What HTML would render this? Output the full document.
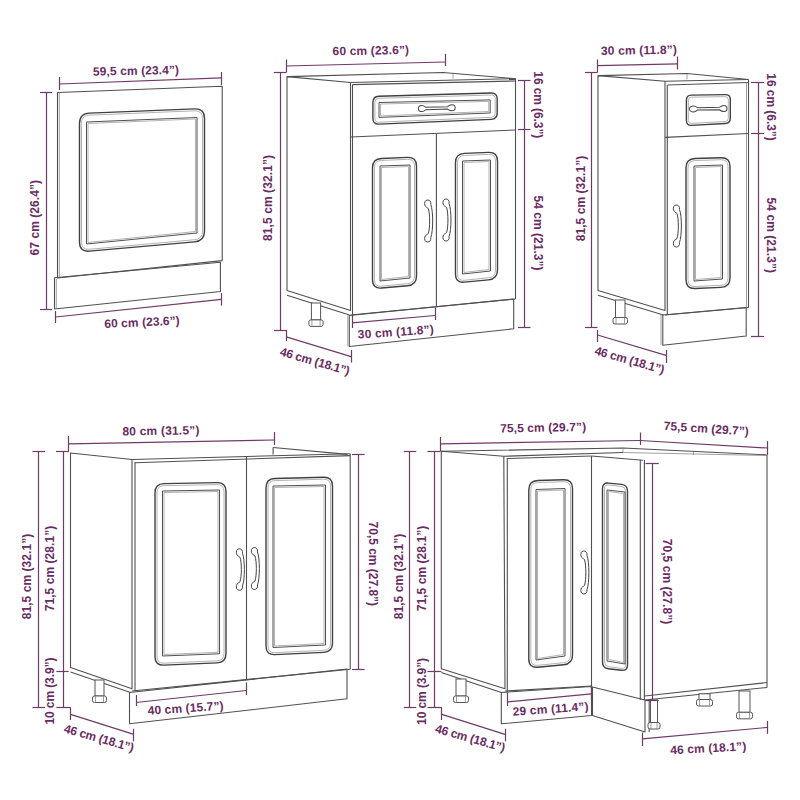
<!DOCTYPE html>
<html><head><meta charset="utf-8"><style>
html,body{margin:0;padding:0;background:#fff;}
svg{display:block;}
.o{fill:none;stroke:#505050;stroke-width:1.1;stroke-linejoin:round}
.o2{fill:#fff;stroke:#555;stroke-width:1}
.l{fill:none;stroke:#888;stroke-width:0.8}
.fo{fill:none;stroke:#404040;stroke-width:1.4}
.fl{fill:none;stroke:#a0a0a0;stroke-width:0.8}
.fi{fill:none;stroke:#505050;stroke-width:1.0}
.hd{fill:#fff;stroke:#444;stroke-width:1}
.d{fill:none;stroke:#6e3a68;stroke-width:1.2}
text{font-family:"Liberation Sans",sans-serif;font-weight:bold;fill:#6a2c63;text-anchor:middle;dominant-baseline:middle}
</style></head><body>
<svg width="800" height="800" viewBox="0 0 800 800">
<polygon points="57.5,92.5 222.2,86.3 222.2,260.6 57.5,278" class="o"/>
<line x1="59.3" y1="93" x2="59.3" y2="278" class="l"/>
<polygon points="54.5,277.8 220.4,262.2 220.4,291.5 54.5,309" class="o"/>
<line x1="56.3" y1="279" x2="56.3" y2="308.5" class="l"/>
<path d="M79.5,123.5Q79.5,113.5 89.49,113.1L194.51,108.9Q204.5,108.5 204.5,118.5L204.5,231Q204.5,241 194.54,241.88L89.46,251.12Q79.5,252 79.5,242Z" class="fo"/>
<path d="M81.5,123.5Q81.5,115.5 89.49,115.17L194.51,110.83Q202.5,110.5 202.5,118.5L202.5,231Q202.5,239 194.53,239.72L89.47,249.28Q81.5,250 81.5,242Z" class="fl"/>
<polygon points="86.5,122 197,117.5 197,233 86.5,244" class="fi"/>
<polygon points="88,123.5 195.5,119 195.5,231.5 88,242.5" class="fl"/>
<line x1="59.5" y1="77" x2="59.5" y2="90" class="d"/>
<line x1="59" y1="84" x2="221.6" y2="77.8" class="d"/>
<line x1="221.5" y1="72" x2="221.5" y2="85" class="d"/>
<text x="0" y="0" transform="translate(136,71.6) rotate(-1.2)" font-size="12" textLength="86" lengthAdjust="spacing">59,5 cm (23.4”)</text>
<line x1="46.5" y1="92.5" x2="46.5" y2="309" class="d"/>
<line x1="40" y1="92.5" x2="52" y2="92.5" class="d"/>
<line x1="40" y1="309.5" x2="52" y2="309.5" class="d"/>
<text x="0" y="0" transform="translate(35.9,217.7) rotate(-90)" font-size="12" textLength="75.5" lengthAdjust="spacing">67 cm (26.4”)</text>
<line x1="55.5" y1="311" x2="55.5" y2="323" class="d"/>
<line x1="55.6" y1="317" x2="221.3" y2="299.4" class="d"/>
<line x1="221.5" y1="293" x2="221.5" y2="305.6" class="d"/>
<text x="0" y="0" transform="translate(142,323.1) rotate(-2.5)" font-size="12" textLength="75.5" lengthAdjust="spacing">60 cm (23.6”)</text>
<polygon points="287,76.6 350.5,82.5 350.5,310.5 287,290.5" class="o"/>
<line x1="287" y1="295.3" x2="349.5" y2="315" class="o"/>
<polyline points="287,76.6 443,72.5 515.5,78.8" class="o"/>
<line x1="453" y1="73.5" x2="453" y2="78.5" class="l"/>
<line x1="350.5" y1="82.5" x2="515.5" y2="78.6" class="o"/>
<line x1="352.5" y1="84.6" x2="515.5" y2="81" class="o"/>
<line x1="515.5" y1="78.8" x2="515.5" y2="299" class="o"/>
<line x1="352.5" y1="84.6" x2="352.5" y2="315" class="o"/>
<line x1="350.5" y1="137" x2="515.5" y2="130" class="o"/>
<line x1="350.5" y1="315" x2="515.5" y2="299" class="o"/>
<line x1="436.4" y1="134" x2="436.4" y2="307" class="o"/>
<polygon points="349.3,315.5 513.7,299 513.7,328.8 349.3,346.5" class="o"/>
<line x1="347.8" y1="315.5" x2="347.8" y2="346.5" class="l"/>
<path d="M372.9,102.4Q372.9,96.4 378.9,96.23L491.2,93.07Q497.2,92.9 497.2,98.9L497.2,113.1Q497.2,119.1 491.21,119.36L378.89,124.14Q372.9,124.4 372.9,118.4Z" class="fo"/>
<path d="M374.9,102.4Q374.9,98.4 378.9,98.28L491.2,95.02Q495.2,94.9 495.2,98.9L495.2,113.1Q495.2,117.1 491.2,117.28L378.9,122.22Q374.9,122.4 374.9,118.4Z" class="fl"/>
<polygon points="379,102.5 490.2,99.9 490.2,113 379,117.4" class="fi"/>
<polygon points="380.5,104 488.7,101.4 488.7,111.5 380.5,115.9" class="fl"/>
<path d="M0,-3 C-2,-3 -3.5,-1.8 -3.5,0 C-3.5,1.8 -2,3 0,3 C2,3 3,2 4,1.2 L25.81,1.2 C26.81,2 27.81,3 29.81,3 C31.81,3 33.31,1.8 33.31,0 C33.31,-1.8 31.81,-3 29.81,-3 C27.81,-3 26.81,-2 25.81,-1.2 L4,-1.2 C3,-2 2,-3 0,-3 Z" class="hd" transform="translate(421.9,108.6) rotate(-1.54)"/>
<path d="M372.5,167.8Q372.5,158.8 381.49,158.43L407.51,157.37Q416.5,157 416.5,166L416.5,276Q416.5,285 407.53,285.77L381.47,288.03Q372.5,288.8 372.5,279.8Z" class="fo"/>
<path d="M374.5,167.8Q374.5,160.8 381.49,160.49L407.51,159.31Q414.5,159 414.5,166L414.5,276Q414.5,283 407.53,283.66L381.47,286.14Q374.5,286.8 374.5,279.8Z" class="fl"/>
<polygon points="380,166 410,165 410,278 380,281" class="fi"/>
<polygon points="381.5,167.5 408.5,166.5 408.5,276.5 381.5,279.5" class="fl"/>
<path d="M455.5,162.8Q455.5,153.8 464.49,153.41L488.51,152.39Q497.5,152 497.5,161L497.5,270Q497.5,279 488.54,279.85L464.46,282.15Q455.5,283 455.5,274Z" class="fo"/>
<path d="M457.5,162.8Q457.5,155.8 464.49,155.47L488.51,154.33Q495.5,154 495.5,161L495.5,270Q495.5,277 488.54,277.73L464.46,280.27Q457.5,281 457.5,274Z" class="fl"/>
<polygon points="462.5,161 490.5,160 490.5,271 462.5,274" class="fi"/>
<polygon points="464,162.5 489,161.5 489,269.5 464,272.5" class="fl"/>
<path d="M427.5,200 C429.8,200 431.1,201.5 430.8,204.5 C433.3,211 433.3,231 430.8,237.5 C431.1,240.5 429.8,242 427.5,242 C424.8,242 424.3,239 424.8,237 C425.3,235 427.3,234.5 428.3,233.5 C430.1,228 430.1,214 428.3,208.5 C427.3,207.5 425.3,207 424.8,205 C424.3,203 424.8,200 427.5,200 Z" class="hd"/>
<path d="M445.8,199 C448.1,199 449.4,200.5 449.1,203.5 C451.6,210 451.6,230 449.1,236.5 C449.4,239.5 448.1,241 445.8,241 C443.1,241 442.6,238 443.1,236 C443.6,234 445.6,233.5 446.6,232.5 C448.4,227 448.4,213 446.6,207.5 C445.6,206.5 443.6,206 443.1,204 C442.6,202 443.1,199 445.8,199 Z" class="hd"/>
<rect x="311.4" y="303" width="9.2" height="16.9" class="o2"/>
<rect x="308.9" y="319.9" width="14.2" height="6.5" rx="2" class="o2"/>
<line x1="311.9" y1="319.9" x2="311.9" y2="326.4" class="l"/>
<line x1="320.1" y1="319.9" x2="320.1" y2="326.4" class="l"/>
<line x1="286.5" y1="59.5" x2="286.5" y2="72.5" class="d"/>
<line x1="286.3" y1="66" x2="445" y2="62" class="d"/>
<line x1="445.5" y1="53.8" x2="445.5" y2="66" class="d"/>
<line x1="273.8" y1="72.5" x2="286.3" y2="72.5" class="d"/>
<text x="0" y="0" transform="translate(370.8,51.5) rotate(-1)" font-size="12" textLength="76.5" lengthAdjust="spacing">60 cm (23.6”)</text>
<line x1="280.5" y1="72.5" x2="280.5" y2="330" class="d"/>
<line x1="274" y1="330.5" x2="286" y2="330.5" class="d"/>
<text x="0" y="0" transform="translate(268.6,198) rotate(-90)" font-size="12" textLength="86" lengthAdjust="spacing">81,5 cm (32.1”)</text>
<line x1="524.5" y1="80" x2="524.5" y2="327.5" class="d"/>
<line x1="518" y1="80.5" x2="530.5" y2="80.5" class="d"/>
<line x1="518" y1="129.5" x2="530.5" y2="129.5" class="d"/>
<line x1="518" y1="327.5" x2="530.5" y2="327.5" class="d"/>
<text x="0" y="0" transform="translate(537.1,104.8) rotate(90)" font-size="12" textLength="67" lengthAdjust="spacing">16 cm (6.3”)</text>
<text x="0" y="0" transform="translate(537.1,233) rotate(90)" font-size="12" textLength="75" lengthAdjust="spacing">54 cm (21.3”)</text>
<line x1="286.5" y1="330" x2="286.5" y2="341" class="d"/>
<line x1="286.3" y1="336.9" x2="351.9" y2="356.9" class="d"/>
<line x1="351.5" y1="350" x2="351.5" y2="362.5" class="d"/>
<text x="0" y="0" transform="translate(314.7,362.2) rotate(16)" font-size="12" textLength="72" lengthAdjust="spacing">46 cm (18.1”)</text>
<line x1="352.5" y1="315" x2="352.5" y2="328" class="d"/>
<line x1="352.1" y1="322.9" x2="435" y2="315.5" class="d"/>
<line x1="435.5" y1="307.5" x2="435.5" y2="320" class="d"/>
<text x="0" y="0" transform="translate(395.8,332.8) rotate(-4)" font-size="12" textLength="76" lengthAdjust="spacing">30 cm (11.8”)</text>
<polygon points="598,75.6 665,81.3 665,310.5 598,290.5" class="o"/>
<line x1="598" y1="295.3" x2="663.5" y2="315" class="o"/>
<polyline points="598,75.6 687,73.5 748.5,79.5" class="o"/>
<line x1="687" y1="74.5" x2="687" y2="79.4" class="l"/>
<line x1="665" y1="81.3" x2="748.5" y2="79.5" class="o"/>
<line x1="667.5" y1="85" x2="748.5" y2="82.5" class="o"/>
<line x1="748.5" y1="80" x2="748.5" y2="307.5" class="o"/>
<line x1="746.5" y1="82.5" x2="746.5" y2="307.5" class="l"/>
<line x1="667.3" y1="85" x2="667.3" y2="315" class="o"/>
<line x1="665" y1="137.4" x2="748.5" y2="133.5" class="o"/>
<line x1="665" y1="315" x2="748.5" y2="307.5" class="o"/>
<polygon points="662.8,315 746.2,307.5 746.2,336 662.8,345.2" class="o"/>
<line x1="661" y1="315" x2="661" y2="345" class="l"/>
<path d="M686.4,100.2Q686.4,95.2 691.4,95.13L725.3,94.67Q730.3,94.6 730.3,99.6L730.3,118.3Q730.3,123.3 725.31,123.56L691.39,125.34Q686.4,125.6 686.4,120.6Z" class="fo"/>
<path d="M688.4,100.2Q688.4,97.2 691.4,97.15L725.3,96.65Q728.3,96.6 728.3,99.6L728.3,118.3Q728.3,121.3 725.3,121.47L691.4,123.43Q688.4,123.6 688.4,120.6Z" class="fl"/>
<path d="M0,-3 C-2,-3 -4.0,-1.8 -4.0,0 C-4.0,1.8 -2,3 0,3 C2,3 3,2 4,1.2 L26,1.2 C27,2 28,3 30,3 C32,3 33.5,1.8 33.5,0 C33.5,-1.8 32,-3 30,-3 C28,-3 27,-2 26,-1.2 L4,-1.2 C3,-2 2,-3 0,-3 Z" class="hd" transform="translate(693.5,108.9) rotate(-0.76)"/>
<path d="M686,167.8Q686,158.8 695,158.53L721,157.77Q730,157.5 730,166.5L730,278Q730,287 721.01,287.37L694.99,288.43Q686,288.8 686,279.8Z" class="fo"/>
<path d="M688,167.8Q688,160.8 695,160.57L721,159.73Q728,159.5 728,166.5L728,278Q728,285 721.01,285.31L694.99,286.49Q688,286.8 688,279.8Z" class="fl"/>
<polygon points="694,166 722.5,165 722.5,279 694,281" class="fi"/>
<polygon points="695.5,167.5 721,166.5 721,277.5 695.5,279.5" class="fl"/>
<path d="M676.2,205 C678.5,205 679.8,206.5 679.5,209.5 C682,216 682,236 679.5,242.5 C679.8,245.5 678.5,247 676.2,247 C673.5,247 673,244 673.5,242 C674,240 676,239.5 677,238.5 C678.8,233 678.8,219 677,213.5 C676,212.5 674,212 673.5,210 C673,208 673.5,205 676.2,205 Z" class="hd"/>
<rect x="615.5" y="300" width="9.5" height="17.5" class="o2"/>
<rect x="613" y="317.5" width="14.5" height="6.5" rx="2" class="o2"/>
<line x1="616" y1="317.5" x2="616" y2="324" class="l"/>
<line x1="624.5" y1="317.5" x2="624.5" y2="324" class="l"/>
<line x1="597.5" y1="59.5" x2="597.5" y2="72.5" class="d"/>
<line x1="597.5" y1="65.6" x2="677.5" y2="63.8" class="d"/>
<line x1="677.5" y1="56.5" x2="677.5" y2="69.5" class="d"/>
<line x1="585" y1="72.5" x2="597.5" y2="72.5" class="d"/>
<text x="0" y="0" transform="translate(638.9,51.1) rotate(-1)" font-size="12" textLength="76" lengthAdjust="spacing">30 cm (11.8”)</text>
<line x1="591.5" y1="72.8" x2="591.5" y2="327.5" class="d"/>
<line x1="585" y1="327.5" x2="597.5" y2="327.5" class="d"/>
<text x="0" y="0" transform="translate(581.4,198.5) rotate(-90)" font-size="12" textLength="85.5" lengthAdjust="spacing">81,5 cm (32.1”)</text>
<line x1="758.5" y1="82.8" x2="758.5" y2="336" class="d"/>
<line x1="751" y1="82.5" x2="764" y2="82.5" class="d"/>
<line x1="751" y1="133.5" x2="764" y2="133.5" class="d"/>
<line x1="751" y1="336.5" x2="764" y2="336.5" class="d"/>
<text x="0" y="0" transform="translate(770.6,107) rotate(90)" font-size="12" textLength="67.5" lengthAdjust="spacing">16 cm (6.3”)</text>
<text x="0" y="0" transform="translate(770.6,235.3) rotate(90)" font-size="12" textLength="75.5" lengthAdjust="spacing">54 cm (21.3”)</text>
<line x1="597.5" y1="330" x2="597.5" y2="342" class="d"/>
<line x1="597.5" y1="335" x2="666.9" y2="355.6" class="d"/>
<line x1="666.5" y1="350" x2="666.5" y2="363" class="d"/>
<text x="0" y="0" transform="translate(629.4,361) rotate(16)" font-size="12" textLength="72" lengthAdjust="spacing">46 cm (18.1”)</text>
<polygon points="70.5,453 132,459.5 132,688.8 70.5,667.5" class="o"/>
<line x1="70.5" y1="672" x2="130.5" y2="692.5" class="o"/>
<line x1="132" y1="459.5" x2="350.2" y2="453.8" class="o"/>
<line x1="135" y1="462.8" x2="350.2" y2="455.6" class="o"/>
<polyline points="273.1,447.5 347.5,454.4" class="o"/>
<line x1="273.1" y1="447.5" x2="273.1" y2="454.6" class="o"/>
<line x1="350.2" y1="453.8" x2="350.2" y2="669.3" class="o"/>
<line x1="135" y1="462" x2="135" y2="691" class="o"/>
<line x1="246.5" y1="457" x2="246.5" y2="680" class="o"/>
<line x1="132" y1="691" x2="350.2" y2="669.3" class="o"/>
<polygon points="129.5,692.5 347,669 347,698.8 129.5,723.8" class="o"/>
<path d="M155,492.8Q155,483.8 164,483.64L217,482.66Q226,482.5 226,491.5L226,653.5Q226,662.5 217.01,662.88L163.99,665.12Q155,665.5 155,656.5Z" class="fo"/>
<path d="M157,492.8Q157,485.8 164,485.66L217,484.64Q224,484.5 224,491.5L224,653.5Q224,660.5 217.01,660.81L163.99,663.19Q157,663.5 157,656.5Z" class="fl"/>
<polygon points="162.5,491 219.5,490 219.5,653.8 162.5,656" class="fi"/>
<polygon points="164,492.5 218,491.5 218,652.3 164,654.5" class="fl"/>
<path d="M266,487.8Q266,478.8 275,478.56L323.5,477.24Q332.5,477 332.5,486L332.5,643Q332.5,652 323.51,652.41L274.99,654.59Q266,655 266,646Z" class="fo"/>
<path d="M268,487.8Q268,480.8 275,480.6L323.5,479.2Q330.5,479 330.5,486L330.5,643Q330.5,650 323.51,650.34L274.99,652.66Q268,653 268,646Z" class="fl"/>
<polygon points="273,486 325.5,485 325.5,645 273,647.5" class="fi"/>
<polygon points="274.5,487.5 324,486.5 324,643.5 274.5,646" class="fl"/>
<path d="M239.2,548.8 C241.5,548.8 242.8,550.3 242.5,553.3 C245,559.8 245,579.3 242.5,585.8 C242.8,588.8 241.5,590.3 239.2,590.3 C236.5,590.3 236,587.3 236.5,585.3 C237,583.3 239,582.8 240,581.8 C241.8,576.3 241.8,562.8 240,557.3 C239,556.3 237,555.8 236.5,553.8 C236,551.8 236.5,548.8 239.2,548.8 Z" class="hd"/>
<path d="M254.2,547.5 C256.5,547.5 257.8,549 257.5,552 C260,558.5 260,578.5 257.5,585 C257.8,588 256.5,589.5 254.2,589.5 C251.5,589.5 251,586.5 251.5,584.5 C252,582.5 254,582 255,581 C256.8,575.5 256.8,561.5 255,556 C254,555 252,554.5 251.5,552.5 C251,550.5 251.5,547.5 254.2,547.5 Z" class="hd"/>
<rect x="95" y="680" width="9" height="16" class="o2"/>
<rect x="92.5" y="696" width="14" height="6.5" rx="2" class="o2"/>
<line x1="95.5" y1="696" x2="95.5" y2="702.5" class="l"/>
<line x1="103.5" y1="696" x2="103.5" y2="702.5" class="l"/>
<line x1="68.5" y1="436" x2="68.5" y2="451.3" class="d"/>
<line x1="68.8" y1="443.8" x2="274.5" y2="440" class="d"/>
<line x1="274.5" y1="432" x2="274.5" y2="445" class="d"/>
<text x="0" y="0" transform="translate(160.9,431.7) rotate(-1)" font-size="12" textLength="77" lengthAdjust="spacing">80 cm (31.5”)</text>
<line x1="38.5" y1="451.3" x2="38.5" y2="707.5" class="d"/>
<line x1="32.5" y1="451.5" x2="45" y2="451.5" class="d"/>
<line x1="32.5" y1="707.5" x2="45" y2="707.5" class="d"/>
<line x1="63.5" y1="451.3" x2="63.5" y2="707.5" class="d"/>
<line x1="56" y1="451.5" x2="68.8" y2="451.5" class="d"/>
<line x1="56.4" y1="671.5" x2="68.7" y2="671.5" class="d"/>
<line x1="56.4" y1="707.5" x2="70.6" y2="707.5" class="d"/>
<text x="0" y="0" transform="translate(27.9,576.5) rotate(-90)" font-size="12" textLength="85.5" lengthAdjust="spacing">81,5 cm (32.1”)</text>
<text x="0" y="0" transform="translate(51.1,568.5) rotate(-90)" font-size="12" textLength="85.5" lengthAdjust="spacing">71,5 cm (28.1”)</text>
<text x="0" y="0" transform="translate(51.1,691.1) rotate(-90)" font-size="12" textLength="67" lengthAdjust="spacing">10 cm (3.9”)</text>
<line x1="358.5" y1="454.4" x2="358.5" y2="669.75" class="d"/>
<line x1="352" y1="454.5" x2="364.6" y2="454.5" class="d"/>
<line x1="352" y1="669.5" x2="364.6" y2="669.5" class="d"/>
<text x="0" y="0" transform="translate(371.8,563.8) rotate(90)" font-size="12" textLength="84.5" lengthAdjust="spacing">70,5 cm (27.8”)</text>
<line x1="70.5" y1="707.5" x2="70.5" y2="720" class="d"/>
<line x1="70.6" y1="714.4" x2="133.8" y2="734.4" class="d"/>
<line x1="133.5" y1="728.8" x2="133.5" y2="741.3" class="d"/>
<text x="0" y="0" transform="translate(98.75,739) rotate(16)" font-size="12" textLength="72" lengthAdjust="spacing">46 cm (18.1”)</text>
<line x1="136.5" y1="695" x2="136.5" y2="706" class="d"/>
<line x1="136" y1="702.5" x2="246.3" y2="690.5" class="d"/>
<line x1="246.5" y1="682.5" x2="246.5" y2="695" class="d"/>
<text x="0" y="0" transform="translate(185.6,709.1) rotate(-3.8)" font-size="12" textLength="76" lengthAdjust="spacing">40 cm (15.7”)</text>
<polygon points="441.3,451.3 503.8,456.3 505,688.8 441.3,668.8" class="o"/>
<line x1="441.3" y1="672.5" x2="501.3" y2="692.5" class="o"/>
<line x1="507.3" y1="458" x2="507.3" y2="692" class="o"/>
<polyline points="441.3,451.3 623,448 766.5,454.8" class="o"/>
<line x1="503.8" y1="456.3" x2="623" y2="452.5" class="o"/>
<line x1="623" y1="448" x2="623" y2="452.5" class="l"/>
<line x1="623" y1="452.5" x2="766.5" y2="455.5" class="l"/>
<line x1="693.4" y1="452" x2="693.4" y2="455" class="l"/>
<line x1="591.5" y1="456" x2="643" y2="460.3" class="o"/>
<line x1="507.3" y1="458.5" x2="591.5" y2="456" class="o"/>
<line x1="591.5" y1="456" x2="591.5" y2="686" class="o"/>
<line x1="640.3" y1="460" x2="640.3" y2="700" class="o"/>
<line x1="644.4" y1="460" x2="644.4" y2="700" class="o"/>
<line x1="767" y1="455" x2="767" y2="687.5" class="o"/>
<line x1="644.8" y1="696" x2="767" y2="682.5" class="o"/>
<line x1="644.8" y1="700" x2="767" y2="687.5" class="o"/>
<line x1="505" y1="691" x2="591.5" y2="686" class="o"/>
<polygon points="501.3,692.5 591.5,686.5 591.5,715.5 501.3,723.8" class="o"/>
<polygon points="592.5,687 645,700 645,731.9 592.5,715.5" class="o"/>
<line x1="649.2" y1="700" x2="649.2" y2="731.9" class="o"/>
<path d="M528.8,489.8Q528.8,480.8 537.8,480.53L563.5,479.77Q572.5,479.5 572.5,488.5L572.5,655Q572.5,664 563.54,664.82L537.76,667.18Q528.8,668 528.8,659Z" class="fo"/>
<path d="M530.8,489.8Q530.8,482.8 537.8,482.57L563.5,481.73Q570.5,481.5 570.5,488.5L570.5,655Q570.5,662 563.54,662.7L537.76,665.3Q530.8,666 530.8,659Z" class="fl"/>
<polygon points="536,489.5 565,488.5 565,656 536,660" class="fi"/>
<polygon points="537.5,491 563.5,490 563.5,654.5 537.5,658.5" class="fl"/>
<path d="M602.5,488.5Q602.5,482.5 608.47,483.1L621.53,484.4Q627.5,485 627.5,491L627.5,665Q627.5,671 621.54,670.29L608.46,668.71Q602.5,668 602.5,662Z" class="fo"/>
<path d="M604.5,488.5Q604.5,484.5 608.47,484.97L621.53,486.53Q625.5,487 625.5,491L625.5,665Q625.5,669 621.54,668.43L608.46,666.57Q604.5,666 604.5,662Z" class="fl"/>
<polygon points="607,490 625,492 625,664 607,661" class="fi"/>
<polygon points="608.5,491.5 623.5,493.5 623.5,662.5 608.5,659.5" class="fl"/>
<path d="M583.7,551 C586,551 587.3,552.5 587,555.5 C589.5,562 589.5,583 587,589.5 C587.3,592.5 586,594 583.7,594 C581,594 580.5,591 581,589 C581.5,587 583.5,586.5 584.5,585.5 C586.3,580 586.3,565 584.5,559.5 C583.5,558.5 581.5,558 581,556 C580.5,554 581,551 583.7,551 Z" class="hd"/>
<rect x="456" y="679" width="10" height="17" class="o2"/>
<rect x="453.5" y="696" width="15" height="6.5" rx="2" class="o2"/>
<line x1="456.5" y1="696" x2="456.5" y2="702.5" class="l"/>
<line x1="465.5" y1="696" x2="465.5" y2="702.5" class="l"/>
<rect x="650.5" y="700" width="7" height="22.5" class="o2"/>
<rect x="648" y="722.5" width="12" height="6.5" rx="2" class="o2"/>
<line x1="651" y1="722.5" x2="651" y2="729" class="l"/>
<line x1="657" y1="722.5" x2="657" y2="729" class="l"/>
<rect x="699" y="693.8" width="11" height="5.7" class="o2"/>
<rect x="696.5" y="699.5" width="16" height="6.5" rx="2" class="o2"/>
<line x1="699.5" y1="699.5" x2="699.5" y2="706" class="l"/>
<line x1="709.5" y1="699.5" x2="709.5" y2="706" class="l"/>
<rect x="739" y="691" width="11" height="21.3" class="o2"/>
<rect x="736.5" y="712.3" width="16" height="6.5" rx="2" class="o2"/>
<line x1="739.5" y1="712.3" x2="739.5" y2="718.8" class="l"/>
<line x1="749.5" y1="712.3" x2="749.5" y2="718.8" class="l"/>
<line x1="440.5" y1="437" x2="440.5" y2="451.3" class="d"/>
<line x1="440.5" y1="443.8" x2="640" y2="440.5" class="d"/>
<line x1="640.5" y1="432.5" x2="640.5" y2="445" class="d"/>
<text x="0" y="0" transform="translate(543.1,428.5) rotate(-1)" font-size="12" textLength="86" lengthAdjust="spacing">75,5 cm (29.7”)</text>
<line x1="767.5" y1="441" x2="767.5" y2="455" class="d"/>
<line x1="640" y1="440.5" x2="767.5" y2="448" class="d"/>
<text x="0" y="0" transform="translate(706.2,429.5) rotate(3.8)" font-size="12" textLength="85" lengthAdjust="spacing">75,5 cm (29.7”)</text>
<line x1="409.5" y1="451.3" x2="409.5" y2="707.5" class="d"/>
<line x1="403.8" y1="451.5" x2="416.3" y2="451.5" class="d"/>
<line x1="403.8" y1="707.5" x2="416.3" y2="707.5" class="d"/>
<line x1="434.5" y1="451.3" x2="434.5" y2="707.5" class="d"/>
<line x1="427.5" y1="451.5" x2="440.5" y2="451.5" class="d"/>
<line x1="427.5" y1="671.5" x2="441.3" y2="671.5" class="d"/>
<line x1="427.5" y1="707.5" x2="441.9" y2="707.5" class="d"/>
<text x="0" y="0" transform="translate(399.6,576.5) rotate(-90)" font-size="12" textLength="85.5" lengthAdjust="spacing">81,5 cm (32.1”)</text>
<text x="0" y="0" transform="translate(423.1,568.5) rotate(-90)" font-size="12" textLength="85.5" lengthAdjust="spacing">71,5 cm (28.1”)</text>
<text x="0" y="0" transform="translate(422.9,691.4) rotate(-90)" font-size="12" textLength="67" lengthAdjust="spacing">10 cm (3.9”)</text>
<line x1="652.5" y1="463" x2="652.5" y2="700" class="d"/>
<line x1="645.5" y1="463.5" x2="658.8" y2="463.5" class="d"/>
<line x1="645.5" y1="700.5" x2="658.8" y2="700.5" class="d"/>
<text x="0" y="0" transform="translate(665.7,581.5) rotate(90)" font-size="12" textLength="85.5" lengthAdjust="spacing">70,5 cm (27.8”)</text>
<line x1="441.5" y1="707.5" x2="441.5" y2="720" class="d"/>
<line x1="441.9" y1="714.4" x2="505" y2="734.4" class="d"/>
<line x1="505.5" y1="728.8" x2="505.5" y2="741.3" class="d"/>
<text x="0" y="0" transform="translate(470,739) rotate(16)" font-size="12" textLength="72" lengthAdjust="spacing">46 cm (18.1”)</text>
<line x1="507.5" y1="692.5" x2="507.5" y2="706" class="d"/>
<line x1="507.5" y1="701.9" x2="591.3" y2="693.8" class="d"/>
<line x1="591.5" y1="686" x2="591.5" y2="699.4" class="d"/>
<text x="0" y="0" transform="translate(550.6,709.9) rotate(-4)" font-size="12" textLength="76" lengthAdjust="spacing">29 cm (11.4”)</text>
<line x1="642.5" y1="732.5" x2="642.5" y2="746" class="d"/>
<line x1="642.5" y1="738.8" x2="767" y2="727.5" class="d"/>
<line x1="767.5" y1="721" x2="767.5" y2="733.8" class="d"/>
<text x="0" y="0" transform="translate(708.3,749.1) rotate(-3)" font-size="12" textLength="76" lengthAdjust="spacing">46 cm (18.1”)</text>
</svg>
</body></html>
